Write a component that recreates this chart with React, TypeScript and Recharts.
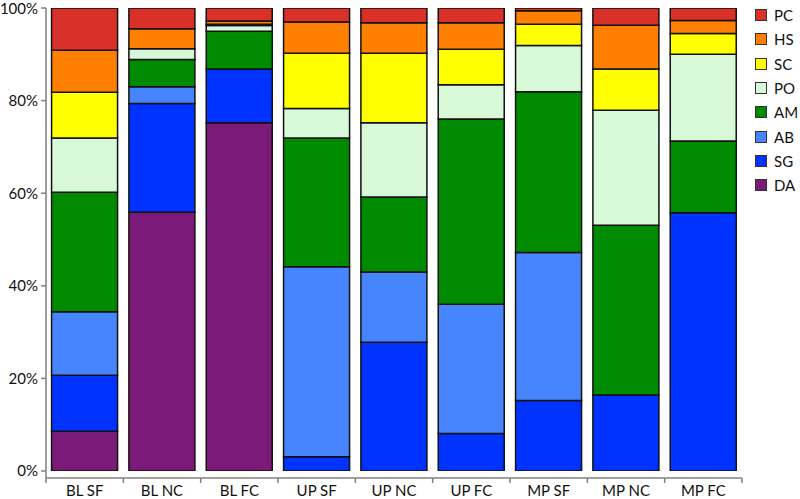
import React from 'react';
import { BarChart, Bar, XAxis, YAxis } from 'recharts';

const categories = ['BL SF', 'BL NC', 'BL FC', 'UP SF', 'UP NC', 'UP FC', 'MP SF', 'MP NC', 'MP FC'];
const DA = [8.6, 55.9, 75.2, 0, 0, 0, 0, 0, 0];
const SG = [12.1, 23.5, 11.6, 3.1, 27.8, 8.1, 15.2, 16.4, 55.8];
const AB = [13.7, 3.6, 0, 41.0, 15.2, 27.9, 32.0, 0, 0];
const AM = [25.8, 5.9, 8.2, 27.8, 16.2, 40.0, 34.7, 36.7, 15.5];
const PO = [11.7, 2.3, 1.2, 6.4, 16.0, 7.4, 10.0, 24.8, 18.7];
const SC = [9.9, 0, 0.3, 11.9, 15.0, 7.7, 4.6, 8.9, 4.5];
const HS = [9.1, 4.3, 0.7, 6.8, 6.6, 5.7, 2.9, 9.5, 2.8];
const PC = [9.1, 4.5, 2.8, 3.0, 3.2, 3.2, 0.6, 3.7, 2.7];
const yTicks = [0, 20, 40, 60, 80, 100];

const seriesNames = ['DA', 'SG', 'AB', 'AM', 'PO', 'SC', 'HS', 'PC'];
const seriesValues = [DA, SG, AB, AM, PO, SC, HS, PC];
const seriesColors = ['#7b1a78', '#0033ff', '#4785ff', '#008a00', '#d8f9d8', '#ffff00', '#ff8000', '#d9302a'];

const data = categories.map((c, i) => {
  const row: Record<string, string | number> = { name: c };
  seriesNames.forEach((s, k) => {
    row[s] = seriesValues[k][i];
  });
  return row;
});

const W = 800;
const H = 499;
const M = { top: 8, right: 58, left: 0, bottom: 0 };
const Y_W = 46;
const X_H = 21;
const PLOT_W = W - M.left - M.right - Y_W;
const AXIS_Y = H - M.bottom - X_H;
const BAND = PLOT_W / categories.length;
const FONT = 'Lato, "Open Sans", sans-serif';

const XTick = (props: any) => {
  const { x, payload, index } = props;
  const left = x - BAND / 2;
  return (
    <g>
      <line x1={left} x2={left} y1={AXIS_Y} y2={AXIS_Y + 5} stroke="#808080" strokeWidth={1.5} />
      {index === categories.length - 1 && (
        <line x1={left + BAND} x2={left + BAND} y1={AXIS_Y} y2={AXIS_Y + 5} stroke="#808080" strokeWidth={1.5} />
      )}
      <text x={x} y={AXIS_Y + 18} textAnchor="middle" fontSize={15} fontFamily={FONT} fill="#111">
        {payload.value}
      </text>
    </g>
  );
};

const LegendBox = () => (
  <div style={{ position: 'absolute', left: 755, top: 3, width: 45, fontFamily: FONT, fontSize: 15, color: '#111' }}>
    {seriesNames
      .map((s, k) => ({ s, c: seriesColors[k] }))
      .reverse()
      .map((it) => (
        <div key={it.s} style={{ display: 'flex', alignItems: 'center', height: 24.3 }}>
          <span
            style={{
              display: 'inline-block',
              width: 10,
              height: 10,
              background: it.c,
              border: '1px solid #333',
              marginRight: 7,
            }}
          />
          <span>{it.s}</span>
        </div>
      ))}
  </div>
);

export default function App() {
  return (
    <div style={{ position: 'absolute', left: 0, top: 0, width: W, height: H, background: '#fff' }}>
      <BarChart width={W} height={H} data={data} margin={M} barCategoryGap="7.2%">
        <XAxis
          dataKey="name"
          height={X_H}
          axisLine={{ stroke: '#808080', strokeWidth: 1.5 }}
          tickLine={false}
          tick={<XTick />}
          interval={0}
        />
        <YAxis
          width={Y_W}
          domain={[0, 100]}
          ticks={yTicks}
          tickFormatter={(v: number) => `${v}%`}
          padding={{ top: 0, bottom: 7 }}
          axisLine={{ stroke: '#808080', strokeWidth: 1.5 }}
          tickLine={{ stroke: '#808080', strokeWidth: 1.5 }}
          tickSize={5}
          tickMargin={3}
          tick={{ fontSize: 15, fontFamily: FONT, fill: '#111' }}
          allowDataOverflow
        />
        {seriesNames.map((s, k) => (
          <Bar
            key={s}
            dataKey={s}
            stackId="a"
            fill={seriesColors[k]}
            stroke="#111"
            strokeWidth={1.5}
            isAnimationActive={false}
          />
        ))}
      </BarChart>
      <LegendBox />
    </div>
  );
}
